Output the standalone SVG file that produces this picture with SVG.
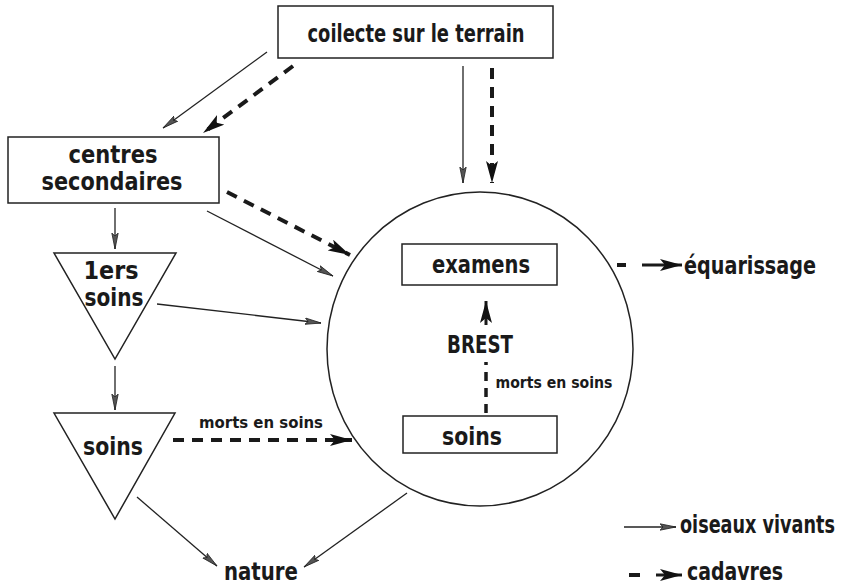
<svg xmlns="http://www.w3.org/2000/svg" width="858" height="588" viewBox="0 0 858 588">
<style>
.box{fill:none;stroke:#222;stroke-width:1.5}
.t{font-family:"Liberation Sans Narrow","DejaVu Sans Condensed","Liberation Sans",sans-serif;font-weight:bold;font-size:24px;fill:#1a1a1a;text-anchor:middle}
.s{font-size:15px}
.sol{fill:none;stroke:#222;stroke-width:1.3;marker-end:url(#ah)}
.dsh{fill:none;stroke:#1a1a1a;stroke-width:4;stroke-dasharray:11 8;marker-end:url(#dh)}
</style>
<defs>
<marker id="ah" markerUnits="userSpaceOnUse" viewBox="0 0 16 8" refX="16" refY="4" markerWidth="16" markerHeight="8" orient="auto">
<path d="M0,0.8 L16,4 L0,7.2 L3,4 z" fill="#555" stroke="#222" stroke-width="0.8"/>
</marker>
<marker id="dh" markerUnits="userSpaceOnUse" viewBox="0 0 22 12" refX="22" refY="6" markerWidth="22" markerHeight="12" orient="auto">
<path d="M0,0 L22,6 L0,12 L5,6 z" fill="#111"/>
</marker>
</defs>

<g id="collecte">
<rect class="box" x="278" y="6" width="275" height="52"/>
<text class="t" x="416" y="42" font-size="26" textLength="217" lengthAdjust="spacingAndGlyphs">coilecte sur le terrain</text>
</g>

<g id="centres">
<rect class="box" x="8" y="137" width="211" height="66"/>
<text class="t" x="113" y="163" font-size="22" textLength="89" lengthAdjust="spacingAndGlyphs">centres</text>
<text class="t" x="112" y="190" font-size="22" textLength="141" lengthAdjust="spacingAndGlyphs">secondaires</text>
</g>

<g id="premiers-soins">
<polygon class="box" points="54,253 176,253 115,359"/>
<text class="t" x="111" y="279" textLength="55" lengthAdjust="spacingAndGlyphs">1ers</text>
<text class="t" x="114" y="306" textLength="59" lengthAdjust="spacingAndGlyphs">soins</text>
</g>

<g id="soins-tri">
<polygon class="box" points="54,413 175,413 115,519"/>
<text class="t" x="113" y="455" textLength="60" lengthAdjust="spacingAndGlyphs">soins</text>
</g>

<g id="brest">
<ellipse class="box" cx="480" cy="349" rx="153" ry="157"/>
<text class="t" x="480" y="353" font-size="26" textLength="66" lengthAdjust="spacingAndGlyphs">BREST</text>
</g>

<g id="examens">
<rect class="box" x="402" y="244" width="155" height="41"/>
<text class="t" x="481" y="273" textLength="98" lengthAdjust="spacingAndGlyphs">examens</text>
</g>

<g id="soins-brest">
<rect class="box" x="403" y="416" width="154" height="37"/>
<text class="t" x="472" y="445" textLength="60" lengthAdjust="spacingAndGlyphs">soins</text>
</g>

<g id="equarissage">
<text class="t" x="750" y="274" textLength="132" lengthAdjust="spacingAndGlyphs">équarissage</text>
</g>

<g id="nature">
<text class="t" x="261" y="580" font-size="22" textLength="74" lengthAdjust="spacingAndGlyphs">nature</text>
</g>

<g id="connectors">
<path class="sol" d="M267,52 L163,128"/>
<path class="dsh" d="M293,66 L203,133"/>
<path class="sol" d="M463,66 L463,183"/>
<path class="dsh" d="M492,68 L492,183"/>
<path class="sol" d="M207,211 L333,276"/>
<path class="dsh" d="M227,192 L350,255"/>
<path class="sol" d="M115,208 L115,249"/>
<path class="sol" d="M157,304 L321,323"/>
<path class="sol" d="M115,366 L115,410"/>
<path class="dsh" d="M173,440 L352,440"/>
<text class="t s" x="261" y="428" textLength="124" lengthAdjust="spacingAndGlyphs">morts en soins</text>
<path class="sol" d="M137,497 L217,566"/>
<path class="sol" d="M407,493 L304,567"/>
<path d="M486,413 L486,362" fill="none" stroke="#1a1a1a" stroke-width="3.5" stroke-dasharray="9 7"/>
<path d="M486,325 L486,301" fill="none" stroke="#1a1a1a" stroke-width="3" marker-end="url(#dh)"/>
<text class="t s" x="554" y="388" textLength="117" lengthAdjust="spacingAndGlyphs">morts en soins</text>
<path d="M617,265 L626,265" stroke="#1a1a1a" stroke-width="4"/>
<path d="M642,265 L682,265" fill="none" stroke="#1a1a1a" stroke-width="3" marker-end="url(#dh)"/>
</g>

<g id="legend">
<path class="sol" d="M624,527 L676,527"/>
<text class="t" x="680" y="533" font-size="19" style="text-anchor:start" textLength="155" lengthAdjust="spacingAndGlyphs">oiseaux vivants</text>
<path d="M629,575 L640,575" stroke="#1a1a1a" stroke-width="4"/>
<path d="M656,575 L682,575" fill="none" stroke="#1a1a1a" stroke-width="3" marker-end="url(#dh)"/>
<text class="t" x="735" y="580" font-size="21" textLength="96" lengthAdjust="spacingAndGlyphs">cadavres</text>
</g>
</svg>
